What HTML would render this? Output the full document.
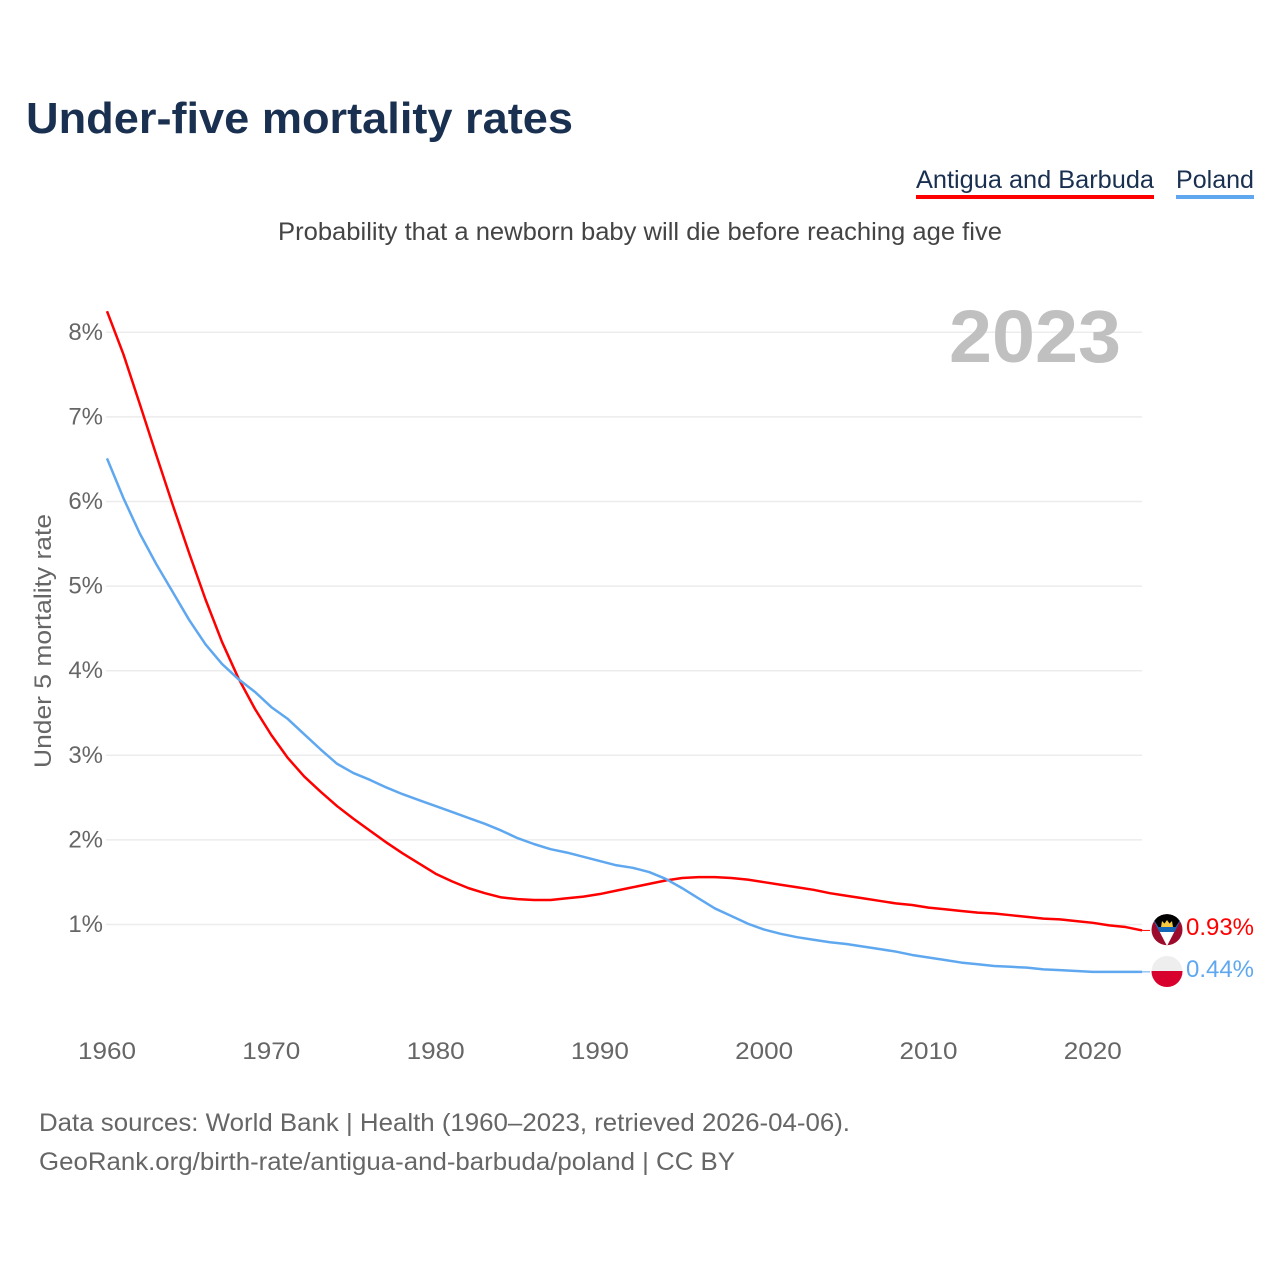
<!DOCTYPE html>
<html lang="en">
<head>
<meta charset="utf-8">
<title>Under-five mortality rates</title>
<style>
html,body{margin:0;padding:0;background:#fff;}
svg{display:block;font-family:"Liberation Sans",Arial,sans-serif;}
</style>
</head>
<body>
<svg id="chart" width="1280" height="1280" viewBox="0 0 1280 1280" xmlns="http://www.w3.org/2000/svg">
  <rect width="1280" height="1280" fill="#fff"/>
  <text x="26" y="133" font-size="44" font-weight="700" fill="#1a3050" textLength="547" lengthAdjust="spacingAndGlyphs">Under-five mortality rates</text>
  <g>
    <g>
      <text x="916" y="188" font-size="25" fill="#1a3050" textLength="238" lengthAdjust="spacingAndGlyphs">Antigua and Barbuda</text>
      <rect x="916" y="195" width="238" height="4" fill="#ff0000"/>
    </g>
    <g>
      <text x="1176" y="188" font-size="25" fill="#1a3050" textLength="78" lengthAdjust="spacingAndGlyphs">Poland</text>
      <rect x="1176" y="195" width="78" height="4" fill="#5fa8f0"/>
    </g>
  </g>
  <text x="278" y="240" font-size="25" fill="#444" textLength="724" lengthAdjust="spacingAndGlyphs">Probability that a newborn baby will die before reaching age five</text>
  <g id="grid"></g>
  <g id="yticks"></g>
  <g id="xticks"></g>
  <text transform="translate(51,641) rotate(-90)" text-anchor="middle" font-size="24" fill="#666" textLength="254" lengthAdjust="spacingAndGlyphs">Under 5 mortality rate</text>
  <text x="949" y="362" font-size="74" font-weight="700" fill="#c0c0c0" textLength="172" lengthAdjust="spacingAndGlyphs">2023</text>
  <g id="series"></g>
  <defs>
    <clipPath id="flag-ag-clip"><circle cx="1167" cy="929.7" r="15.5"/></clipPath>
    <clipPath id="flag-pl-clip"><circle cx="1167" cy="971.5" r="15.5"/></clipPath>
  </defs>
  <g clip-path="url(#flag-ag-clip)">
    <rect x="1150" y="912" width="34" height="36" fill="#9c0a2c"/>
    <polygon points="1152,917 1182,917 1167,946" fill="#fff"/>
    <polygon points="1152,917 1182,917 1174.5,932 1159.5,932" fill="#1467b8"/>
    <polygon points="1152,914 1182,914 1182,917 1175.5,927 1158.5,927 1152,917" fill="#000"/>
    <rect x="1148" y="912" width="38" height="6" fill="#000"/>
    <polygon points="1161,927 1162,921 1164.5,923.5 1167,920 1169.5,923.5 1172,921 1173,927" fill="#f5c842"/>
  </g>
  <g clip-path="url(#flag-pl-clip)">
    <rect x="1150" y="955" width="34" height="17" fill="#eeeeee"/>
    <rect x="1150" y="971" width="34" height="18" fill="#d8002c"/>
  </g>
  <text x="1186" y="935" font-size="24.5" fill="#ff0000" textLength="68" lengthAdjust="spacingAndGlyphs">0.93%</text>
  <text x="1186" y="977" font-size="24.5" fill="#5fa8f0" textLength="68" lengthAdjust="spacingAndGlyphs">0.44%</text>
  <text x="39" y="1131" font-size="25" fill="#666" textLength="811" lengthAdjust="spacingAndGlyphs">Data sources: World Bank | Health (1960–2023, retrieved 2026-04-06).</text>
  <text x="39" y="1170" font-size="25" fill="#666" textLength="696" lengthAdjust="spacingAndGlyphs">GeoRank.org/birth-rate/antigua-and-barbuda/poland | CC BY</text>
</svg>
<script>
const years = [1960,1961,1962,1963,1964,1965,1966,1967,1968,1969,1970,1971,1972,1973,1974,1975,1976,1977,1978,1979,1980,1981,1982,1983,1984,1985,1986,1987,1988,1989,1990,1991,1992,1993,1994,1995,1996,1997,1998,1999,2000,2001,2002,2003,2004,2005,2006,2007,2008,2009,2010,2011,2012,2013,2014,2015,2016,2017,2018,2019,2020,2021,2022,2023];
const antiguaValues = [8.25,7.74,7.15,6.55,5.96,5.39,4.84,4.34,3.91,3.55,3.24,2.97,2.75,2.57,2.40,2.25,2.11,1.97,1.84,1.72,1.60,1.51,1.43,1.37,1.32,1.30,1.29,1.29,1.31,1.33,1.36,1.40,1.44,1.48,1.52,1.55,1.56,1.56,1.55,1.53,1.50,1.47,1.44,1.41,1.37,1.34,1.31,1.28,1.25,1.23,1.20,1.18,1.16,1.14,1.13,1.11,1.09,1.07,1.06,1.04,1.02,0.99,0.97,0.93];
const polandValues = [6.51,6.04,5.62,5.26,4.93,4.60,4.31,4.08,3.90,3.75,3.57,3.43,3.25,3.07,2.90,2.79,2.71,2.62,2.54,2.47,2.40,2.33,2.26,2.19,2.11,2.02,1.95,1.89,1.85,1.80,1.75,1.70,1.67,1.62,1.54,1.43,1.31,1.19,1.10,1.01,0.94,0.89,0.85,0.82,0.79,0.77,0.74,0.71,0.68,0.64,0.61,0.58,0.55,0.53,0.51,0.50,0.49,0.47,0.46,0.45,0.44,0.44,0.44,0.44];
const yTickValues = [1,2,3,4,5,6,7,8];
const yTickLabels = ["1%","2%","3%","4%","5%","6%","7%","8%"];
const xTickValues = [1960,1970,1980,1990,2000,2010,2020];
const xTickLabels = ["1960","1970","1980","1990","2000","2010","2020"];

const NS = "http://www.w3.org/2000/svg";
function xScale(year){ return 107 + (year - 1960) * 16.43; }
function yScale(v){ return 1009.1 - v * 84.6; }

const grid = document.getElementById('grid');
const yticks = document.getElementById('yticks');
const xticks = document.getElementById('xticks');
const series = document.getElementById('series');

yTickValues.forEach(function(v, i){
  const line = document.createElementNS(NS, 'line');
  
  
  line.setAttribute('x1', 106);
  line.setAttribute('x2', xScale(2023));
  line.setAttribute('y1', yScale(v));
  line.setAttribute('y2', yScale(v));
  line.setAttribute('stroke', '#ececec');
  line.setAttribute('stroke-width', 1.5);
  grid.appendChild(line);

  const label = document.createElementNS(NS, 'text');
  
  
  label.setAttribute('x', 103);
  label.setAttribute('y', yScale(v) + 7.5);
  label.setAttribute('text-anchor', 'end');
  label.setAttribute('font-size', 24);
  label.setAttribute('fill', '#666');
  label.textContent = yTickLabels[i];
  yticks.appendChild(label);
});

xTickValues.forEach(function(v, i){
  const label = document.createElementNS(NS, 'text');
  
  
  label.setAttribute('x', xScale(v));
  label.setAttribute('y', 1059);
  label.setAttribute('text-anchor', 'middle');
  label.setAttribute('font-size', 24.5);
  label.setAttribute('fill', '#666');
  label.setAttribute('textLength', 58);
  label.setAttribute('lengthAdjust', 'spacingAndGlyphs');
  label.textContent = xTickLabels[i];
  xticks.appendChild(label);
});

function pointsFor(values){
  return values.map(function(v, i){
    return xScale(years[i]).toFixed(2) + ',' + yScale(v).toFixed(2);
  }).join(' ');
}

function connector(values, color){
  const last = values[values.length - 1];
  const line = document.createElementNS(NS, 'line');
  
  
  line.setAttribute('x1', xScale(years[years.length - 1]));
  line.setAttribute('x2', 1150);
  line.setAttribute('y1', yScale(last));
  line.setAttribute('y2', yScale(last));
  line.setAttribute('stroke', color);
  line.setAttribute('stroke-width', 1);
  series.appendChild(line);
}

const antiguaLine = document.createElementNS(NS, 'polyline');


antiguaLine.setAttribute('points', pointsFor(antiguaValues));
antiguaLine.setAttribute('fill', 'none');
antiguaLine.setAttribute('stroke', '#ff0000');
antiguaLine.setAttribute('stroke-width', 2.5);
antiguaLine.setAttribute('stroke-linejoin', 'round');
series.appendChild(antiguaLine);
connector(antiguaValues, '#ff0000');

const polandLine = document.createElementNS(NS, 'polyline');


polandLine.setAttribute('points', pointsFor(polandValues));
polandLine.setAttribute('fill', 'none');
polandLine.setAttribute('stroke', '#5fa8f0');
polandLine.setAttribute('stroke-width', 2.5);
polandLine.setAttribute('stroke-linejoin', 'round');
series.appendChild(polandLine);
connector(polandValues, '#5fa8f0');
</script>
</body>
</html>
